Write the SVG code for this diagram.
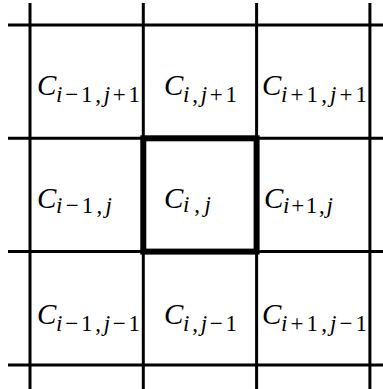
<svg xmlns="http://www.w3.org/2000/svg" width="383" height="389" viewBox="0 0 383 389">
<style>
.thin{stroke:#000;stroke-width:3;fill:none}
.thick{stroke:#000;stroke-width:6;fill:none}
text{font-family:"Liberation Serif","DejaVu Serif",serif;fill:#000}
.c{font-style:italic;font-size:29px}
.s{font-size:23px}
.it{font-style:italic}
</style>
<rect width="383" height="389" fill="#fff"/>
<g id="grid">
<line class="thin" x1="30" y1="3" x2="30" y2="389"/>
<line class="thin" x1="143.3" y1="3" x2="143.3" y2="389"/>
<line class="thin" x1="256.6" y1="3" x2="256.6" y2="389"/>
<line class="thin" x1="369.9" y1="3" x2="369.9" y2="389"/>
<line class="thin" x1="8" y1="25" x2="383" y2="25"/>
<line class="thin" x1="8" y1="138.3" x2="383" y2="138.3"/>
<line class="thin" x1="8" y1="251.6" x2="383" y2="251.6"/>
<line class="thin" x1="8" y1="365" x2="383" y2="365"/>
</g>
<g id="center-cell">
<rect class="thick" x="143.3" y="138.3" width="113.3" height="113.3"/>
</g>
<g id="labels">
<g id="c-im1-jp1"><text class="c" x="37" y="95">C</text><text class="s" x="56" y="102" textLength="84" lengthAdjust="spacing"><tspan class="it">i</tspan>−1,<tspan class="it">j</tspan>+1</text></g>
<g id="c-i-jp1"><text class="c" x="164" y="95">C</text><text class="s" x="183" y="102" textLength="54" lengthAdjust="spacing"><tspan class="it">i</tspan>,<tspan class="it">j</tspan>+1</text></g>
<g id="c-ip1-jp1"><text class="c" x="262" y="95">C</text><text class="s" x="281" y="102" textLength="86" lengthAdjust="spacing"><tspan class="it">i</tspan>+1,<tspan class="it">j</tspan>+1</text></g>
<g id="c-im1-j"><text class="c" x="37" y="208">C</text><text class="s" x="56" y="213" textLength="56" lengthAdjust="spacing"><tspan class="it">i</tspan>−1,<tspan class="it">j</tspan></text></g>
<g id="c-i-j"><text class="c" x="164" y="208">C</text><text class="s" x="183" y="212" textLength="28" lengthAdjust="spacing"><tspan class="it">i</tspan>,<tspan class="it">j</tspan></text></g>
<g id="c-ip1-j"><text class="c" x="264" y="208">C</text><text class="s" x="283" y="213" textLength="50" lengthAdjust="spacing"><tspan class="it">i</tspan>+1,<tspan class="it">j</tspan></text></g>
<g id="c-im1-jm1"><text class="c" x="37" y="324">C</text><text class="s" x="56" y="331" textLength="84" lengthAdjust="spacing"><tspan class="it">i</tspan>−1,<tspan class="it">j</tspan>−1</text></g>
<g id="c-i-jm1"><text class="c" x="164" y="324">C</text><text class="s" x="183" y="331" textLength="54" lengthAdjust="spacing"><tspan class="it">i</tspan>,<tspan class="it">j</tspan>−1</text></g>
<g id="c-ip1-jm1"><text class="c" x="262" y="324">C</text><text class="s" x="281" y="331" textLength="86" lengthAdjust="spacing"><tspan class="it">i</tspan>+1,<tspan class="it">j</tspan>−1</text></g>
</g>
</svg>
